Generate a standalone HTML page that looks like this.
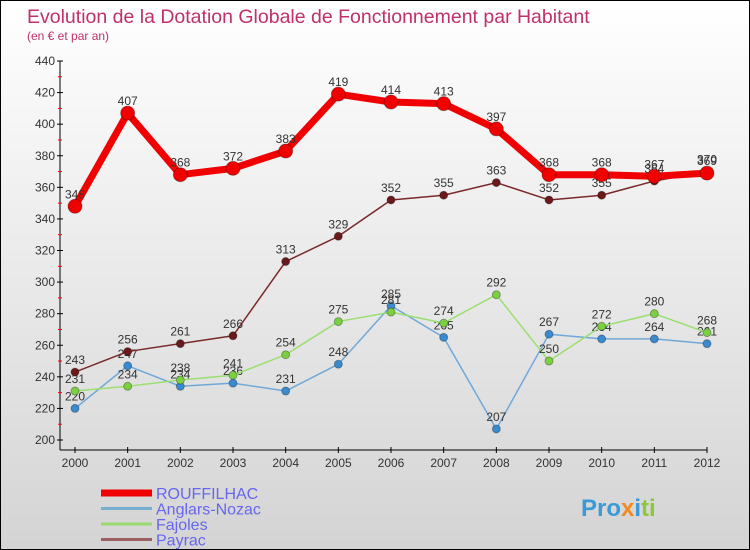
<!DOCTYPE html>
<html><head><meta charset="utf-8"><style>
body{margin:0}
#c{width:748px;height:548px;border:1px solid #000;background:linear-gradient(#fff,#d4d4d4);position:relative;overflow:hidden;font-family:"Liberation Sans","DejaVu Sans",sans-serif}
</style></head><body>
<div id="c">
<svg id="s" width="748" height="548"></svg>
</div>
<script>
const years=["2000","2001","2002","2003","2004","2005","2006","2007","2008","2009","2010","2011","2012"];
const yTicks=[200,220,240,260,280,300,320,340,360,380,400,420,440];
const rouffilhac=[348,407,368,372,383,419,414,413,397,368,368,367,369];
const anglars=[220,247,234,236,231,248,285,265,207,267,264,264,261];
const fajoles=[231,234,238,241,254,275,281,274,292,250,272,280,268];
const payrac=[243,256,261,266,313,329,352,355,363,352,355,364,370];
const NS="http://www.w3.org/2000/svg";
const s=document.getElementById('s');
const X=i=>74+i*(632/12);
const Y=v=>439-(v-200)*(379/240);
function el(t,a,p){const e=document.createElementNS(NS,t);for(const k in a)e.setAttribute(k,a[k]);(p||s).appendChild(e);return e;}
function txt(x,y,t,a){const e=el('text',Object.assign({x:x,y:y},a));e.textContent=t;return e;}
let t=txt(26,22,"Evolution de la Dotation Globale de Fonctionnement par Habitant",{fill:"#c0306a","font-size":"19.5"});

t=txt(26,39,"(en € et par an)",{fill:"#c0306a","font-size":"12"});

let ax=el('line',{x1:59,y1:Y(440),x2:59,y2:449,stroke:"#000"});

ax=el('line',{x1:59,y1:449,x2:X(12),y2:449,stroke:"#000"});

yTicks.forEach((v,i)=>{
 el('line',{x1:56,y1:Y(v),x2:62,y2:Y(v),stroke:"#000"});
 if(i<yTicks.length-1) el('line',{x1:57,y1:Y(v+10),x2:61,y2:Y(v+10),stroke:"#f00"});
 const l=txt(54,Y(v)+4,String(v),{fill:"#333","font-size":"12","text-anchor":"end"});
 
});
years.forEach((y,i)=>{
 el('line',{x1:X(i),y1:446,x2:X(i),y2:452,stroke:"#000"});
 const l=txt(X(i),466,y,{fill:"#333","font-size":"12","text-anchor":"middle"});
 
});
function series(data,color,w,r,fill,name){
 const g=el('g',{});
 
 el('polyline',{points:data.map((v,i)=>X(i)+","+Y(v)).join(" "),fill:"none",stroke:color,"stroke-width":w,"stroke-linejoin":"round"},g);
 data.forEach((v,i)=>{
  const c=el('circle',{cx:X(i),cy:Y(v),r:r,fill:fill,stroke:"rgba(0,0,0,0.3)","stroke-width":"1"},g);
  
  const l=txt(X(i),Y(v)-8,String(v),{fill:"#333","font-size":"12","text-anchor":"middle"},g);
  
 });
}
series(anglars,"#6fa8d8",1.5,4,"#3a8ad0","anglars-nozac");
series(fajoles,"#9adf70",1.5,4,"#7ad040","fajoles");
series(payrac,"#7a2a2a",1.5,4,"#6a1a1a","payrac");
series(rouffilhac,"#f00000",7,7,"#f00000","rouffilhac");
const leg=[["ROUFFILHAC","#f00000",7],["Anglars-Nozac","#7aaed0",3],["Fajoles","#9ad870",3],["Payrac","#9a6060",3]];
leg.forEach((L,i)=>{
 const g=el('g',{});
 
 const y=492+i*15.5;
 el('line',{x1:100,y1:y,x2:151,y2:y,stroke:L[1],"stroke-width":L[2]},g);
 txt(155,y+6,L[0],{fill:"#6666ee","font-size":"16"},g);
});
const lg=txt(580,515,"Pro",{"font-size":"24","font-weight":"bold",fill:"#3a9ad8"});

const t2=el('tspan',{fill:"#f08a20"},lg);t2.textContent="x";
const t3=el('tspan',{fill:"#3a9ad8"},lg);t3.textContent="i";
const t4=el('tspan',{fill:"#8ac840"},lg);t4.textContent="ti";
</script>
</body></html>
